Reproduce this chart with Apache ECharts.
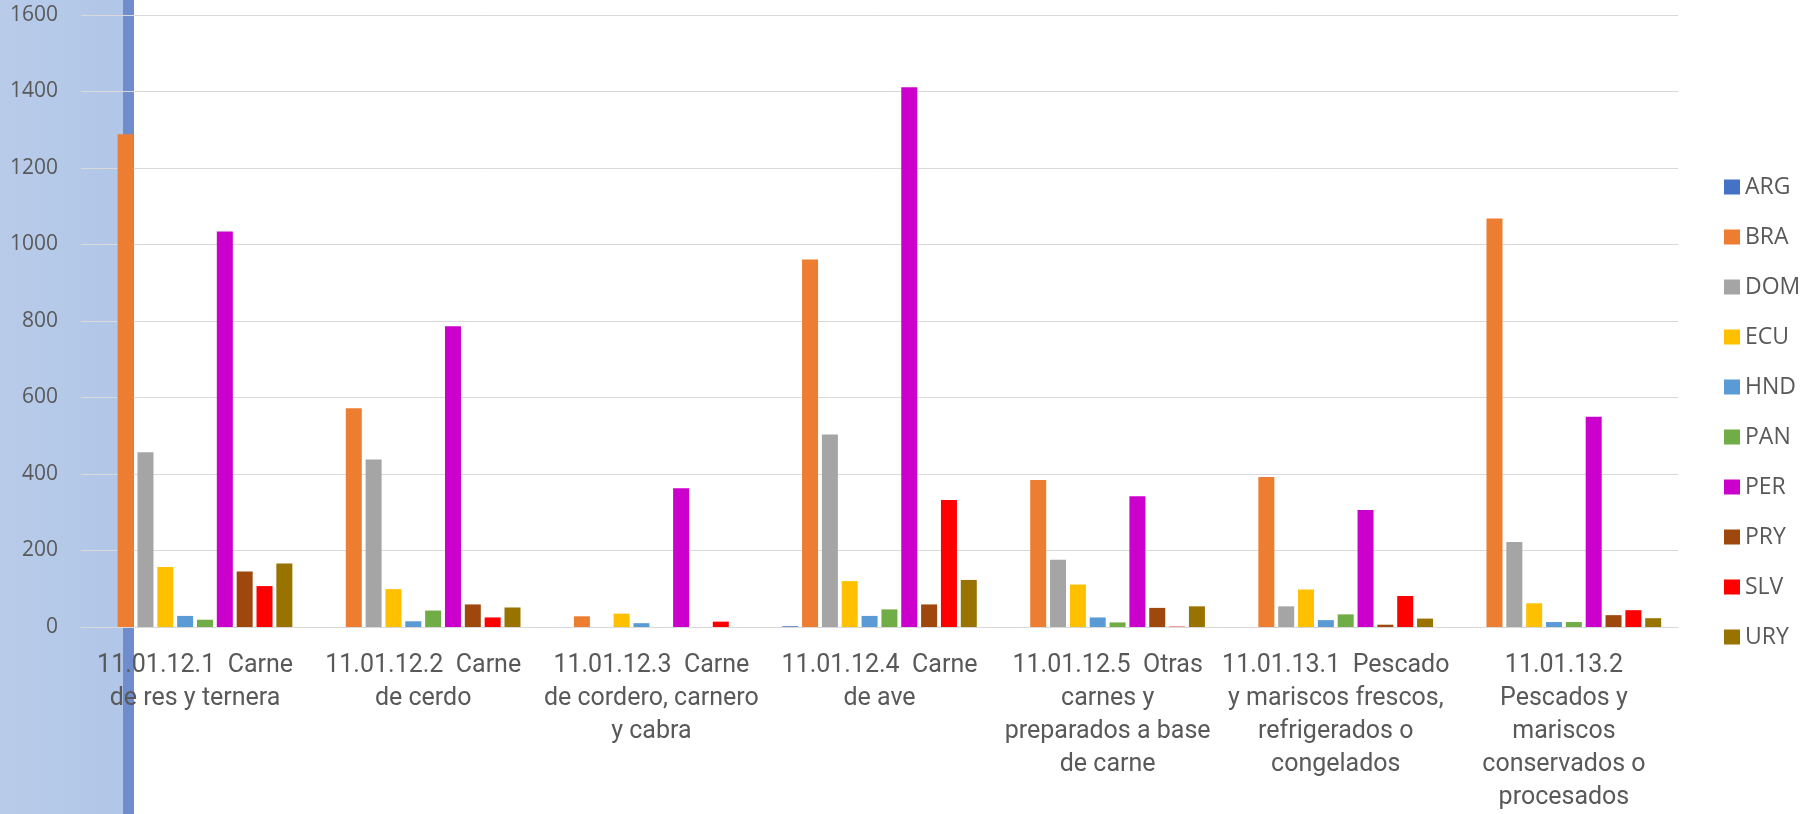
<!DOCTYPE html>
<html><head><meta charset="utf-8">
<script src="https://cdn.jsdelivr.net/npm/echarts@6/dist/echarts.min.js"></script>
<style>html,body{margin:0;padding:0;background:#fff}#c{width:1810px;height:814px}</style>
</head><body><div id="c"></div>
<script>
const categories = [
  "11.01.12.1  Carne\nde res y ternera",
  "11.01.12.2  Carne\nde cerdo",
  "11.01.12.3  Carne\nde cordero, carnero\ny cabra",
  "11.01.12.4  Carne\nde ave",
  "11.01.12.5  Otras\ncarnes y\npreparados a base\nde carne",
  "11.01.13.1  Pescado\ny mariscos frescos,\nrefrigerados o\ncongelados",
  "11.01.13.2\nPescados y\nmariscos\nconservados o\nprocesados"
];
const seriesNames = ["ARG","BRA","DOM","ECU","HND","PAN","PER","PRY","SLV","URY"];
const ARG = [0, 0, 0, 2, 0, 0, 0];
const BRA = [1288, 572, 28, 961, 384, 392, 1068];
const DOM = [457, 438, 0, 503, 176, 54, 222];
const ECU = [157, 99, 35, 120, 111, 98, 62];
const HND = [29, 15, 10, 29, 25, 18, 13];
const PAN = [19, 43, 0, 46, 12, 33, 13];
const PER = [1034, 786, 363, 1411, 342, 306, 550];
const PRY = [145, 59, 0, 59, 50, 6, 31];
const SLV = [107, 25, 14, 332, 1, 81, 44];
const URY = [166, 51, 0, 123, 54, 22, 23];
const yTicks = [0, 200, 400, 600, 800, 1000, 1200, 1400, 1600];
const seriesData = [ARG, BRA, DOM, ECU, HND, PAN, PER, PRY, SLV, URY];
const colors = ["#4472C4","#ED7D31","#A5A5A5","#FFC000","#5B9BD5","#70AD47","#CC00CC","#9E480E","#FF0000","#997300"];

const chart = echarts.init(document.getElementById('c'), null, {renderer: 'canvas'});
chart.setOption({
  animation: false,
  color: colors,
  graphic: [
    {type: 'rect', z: -10, shape: {x: 0, y: 0, width: 123, height: 814},
     style: {fill: new echarts.graphic.LinearGradient(0, 0, 1, 0, [{offset: 0, color: '#b8cbe9'}, {offset: 1, color: '#b1c6e8'}])}},
    {type: 'rect', z: -10, shape: {x: 123, y: 0, width: 11, height: 814}, style: {fill: '#6f8dcd'}}
  ],
  grid: {left: 81, right: 132, top: 15, bottom: 185, containLabel: false},
  legend: {
    orient: 'vertical', left: 1724, top: 175, padding: 0,
    icon: 'rect', itemWidth: 16, itemHeight: 15, itemGap: 26,
    data: seriesNames,
    textStyle: {fontFamily: 'Open Sans', fontSize: 23, color: '#595959', lineHeight: 24}
  },
  xAxis: {
    type: 'category', data: categories,
    axisTick: {show: false},
    axisLine: {lineStyle: {color: '#d9d9d9', width: 1}},
    axisLabel: {interval: 0, margin: 22, fontFamily: 'Roboto', fontSize: 25, color: '#595959', lineHeight: 33, align: 'center'}
  },
  yAxis: {
    type: 'value', min: 0, max: 1600, interval: 200,
    axisLine: {show: false}, axisTick: {show: false},
    splitLine: {lineStyle: {color: '#d9d9d9', width: 1}},
    axisLabel: {margin: 23, fontFamily: 'Open Sans', fontSize: 21, color: '#595959',
      formatter: v => yTicks.includes(v) ? String(v) : ''}
  },
  series: seriesNames.map((n, i) => ({
    name: n, type: 'bar', data: seriesData[i],
    barWidth: 16, barGap: '24%'
  }))
});
</script></body></html>
